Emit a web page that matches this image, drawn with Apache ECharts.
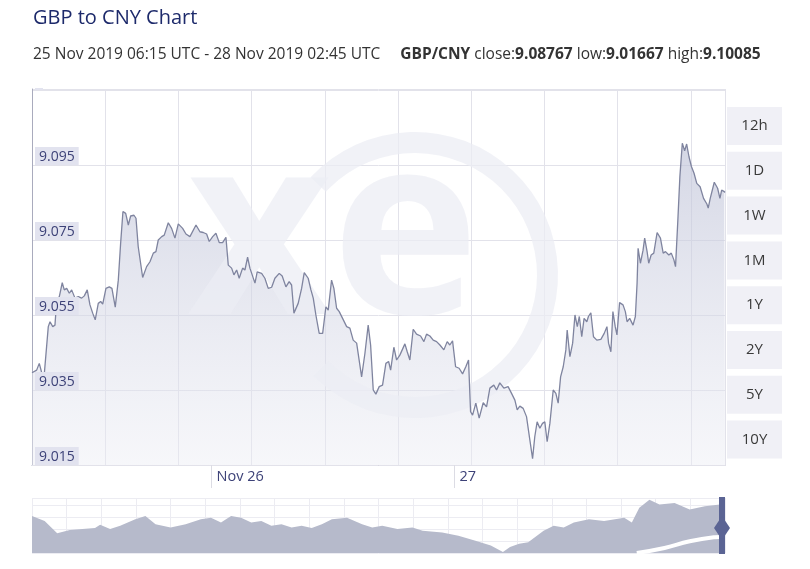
<!DOCTYPE html>
<html>
<head>
<meta charset="utf-8">
<script src="https://cdn.jsdelivr.net/npm/echarts@6/dist/echarts.min.js"></script>
<style>
html,body{margin:0;padding:0;background:#fff;}
#chart{width:810px;height:569px;}
</style>
</head>
<body>
<div id="chart"></div>
<script>
// ---- Data (hours since 25 Nov 2019 00:00 UTC, GBP/CNY rate) ----
const hours25 = [6.25, 6.71, 6.97, 7.21, 7.44, 7.86, 8.03, 8.30, 8.52, 8.69, 8.95, 9.24, 9.44, 9.68, 9.94, 10.17, 10.50, 10.83, 11.16, 11.42, 11.71, 11.98, 12.25, 12.50, 12.80, 13.04, 13.24, 13.56, 13.89, 14.15, 14.28, 14.48, 14.78, 15.01, 15.24, 15.51, 15.77, 16.00, 16.33, 16.53, 16.75, 17.19, 17.58, 17.91, 18.24, 18.50, 18.73, 19.07, 19.32, 19.72, 20.05, 20.38, 20.71, 21.14, 21.47, 21.86, 22.46, 22.85, 23.18, 23.51, 23.77];
const rates25 = [9.0396, 9.0403, 9.0421, 9.0396, 9.0385, 9.0519, 9.0532, 9.0519, 9.0523, 9.0590, 9.0599, 9.0636, 9.0617, 9.0621, 9.0608, 9.0617, 9.0595, 9.0599, 9.0595, 9.0601, 9.0617, 9.0577, 9.0555, 9.0537, 9.0581, 9.0586, 9.0579, 9.0621, 9.0625, 9.0621, 9.0625, 9.0571, 9.0643, 9.0741, 9.0826, 9.0821, 9.0790, 9.0814, 9.0816, 9.0808, 9.0732, 9.0650, 9.0679, 9.0692, 9.0715, 9.0719, 9.0750, 9.0759, 9.0763, 9.0796, 9.0781, 9.0755, 9.0793, 9.0781, 9.0766, 9.0759, 9.0790, 9.0772, 9.0770, 9.0766, 9.0746];

const hours26 = [24.11, 24.43, 24.76, 25.09, 25.42, 25.65, 25.98, 26.21, 26.48, 26.73, 27.07, 27.30, 27.56, 27.79, 28.29, 28.51, 28.95, 29.27, 29.60, 29.94, 30.26, 30.69, 30.98, 31.35, 31.67, 31.91, 32.14, 32.56, 32.90, 33.16, 33.55, 33.82, 34.05, 34.31, 34.64, 34.98, 35.30, 35.53, 35.86, 36.09, 36.36, 36.62, 36.95, 37.35, 37.67, 38.00, 38.34, 38.83, 39.16, 39.32, 39.48, 39.72, 39.98, 40.24, 40.57, 40.90, 41.23, 41.50, 41.70, 42.02, 42.29, 42.61, 43.11, 43.34, 43.60, 43.93, 44.26, 44.66, 44.99, 45.25, 45.58, 45.91, 46.24, 46.57, 46.96, 47.29, 47.55, 47.82];
const rates26 = [9.0759, 9.0768, 9.0743, 9.0743, 9.0757, 9.0683, 9.0675, 9.0657, 9.0670, 9.0648, 9.0675, 9.0670, 9.0704, 9.0675, 9.0635, 9.0665, 9.0661, 9.0648, 9.0621, 9.0624, 9.0648, 9.0661, 9.0654, 9.0625, 9.0639, 9.0630, 9.0555, 9.0581, 9.0621, 9.0663, 9.0648, 9.0617, 9.0595, 9.0550, 9.0501, 9.0501, 9.0572, 9.0563, 9.0643, 9.0621, 9.0568, 9.0559, 9.0541, 9.0519, 9.0515, 9.0483, 9.0475, 9.0385, 9.0448, 9.0443, 9.0523, 9.0470, 9.0350, 9.0339, 9.0359, 9.0363, 9.0421, 9.0426, 9.0403, 9.0464, 9.0430, 9.0443, 9.0473, 9.0452, 9.0430, 9.0512, 9.0499, 9.0494, 9.0479, 9.0499, 9.0494, 9.0483, 9.0479, 9.0470, 9.0457, 9.0479, 9.0470, 9.0481];

const hours27 = [48.12, 48.47, 48.81, 49.13, 49.40, 49.60, 49.80, 50.12, 50.45, 50.85, 51.18, 51.51, 51.90, 52.17, 52.49, 52.89, 53.31, 53.65, 53.98, 54.21, 54.47, 54.80, 55.13, 55.46, 55.73, 55.95, 56.18, 56.45, 56.71, 56.94, 57.17, 57.44, 57.77, 58.03, 58.26, 58.50, 58.76, 59.02, 59.15, 59.42, 59.69, 59.92, 60.15, 60.35, 60.59, 60.82, 61.09, 61.25, 61.49, 61.75, 62.08, 62.48, 62.81, 63.08, 63.24, 63.47, 63.67, 63.90, 64.07, 64.33, 64.67, 64.90, 65.07, 65.33, 65.66, 65.89, 66.06, 66.16, 66.39, 66.65, 66.81, 67.05, 67.21, 67.45, 67.71, 68.04, 68.37, 68.64, 68.87, 69.20, 69.44, 69.70, 69.86, 70.09, 70.29, 70.53, 70.76, 70.96, 71.19, 71.43, 71.69, 71.96];
const rates27 = [9.0412, 9.0408, 9.0393, 9.0412, 9.0430, 9.0292, 9.0283, 9.0315, 9.0275, 9.0316, 9.0305, 9.0355, 9.0363, 9.0350, 9.0369, 9.0355, 9.0359, 9.0341, 9.0323, 9.0297, 9.0307, 9.0301, 9.0279, 9.0217, 9.0167, 9.0226, 9.0265, 9.0248, 9.0261, 9.0265, 9.0212, 9.0261, 9.0350, 9.0341, 9.0315, 9.0385, 9.0412, 9.0457, 9.0510, 9.0439, 9.0475, 9.0550, 9.0519, 9.0546, 9.0492, 9.0541, 9.0532, 9.0546, 9.0556, 9.0492, 9.0483, 9.0485, 9.0501, 9.0519, 9.0475, 9.0452, 9.0559, 9.0519, 9.0497, 9.0583, 9.0577, 9.0559, 9.0532, 9.0541, 9.0523, 9.0546, 9.0635, 9.0728, 9.0688, 9.0723, 9.0755, 9.0719, 9.0688, 9.0710, 9.0715, 9.0770, 9.0755, 9.0715, 9.0719, 9.0710, 9.0715, 9.0697, 9.0679, 9.0803, 9.0919, 9.1008, 9.0988, 9.1006, 9.0972, 9.0946, 9.0928, 9.0901];

const hours28 = [72.29, 72.63, 72.96, 73.09, 73.29, 73.69, 74.02, 74.25, 74.42, 74.68, 74.75];
const rates28 = [9.0892, 9.0861, 9.0846, 9.0835, 9.0861, 9.0904, 9.0888, 9.0861, 9.0883, 9.0879, 9.08767];

// navigator (overview) series
const navHours = [6.25, 7.50, 8.74, 9.99, 12.48, 12.98, 13.97, 14.97, 16.46, 17.46, 18.46, 19.95, 21.44, 22.94, 23.94, 24.93, 25.93, 26.92, 27.92, 28.92, 29.91, 30.91, 31.91, 32.90, 33.90, 34.90, 35.89, 37.39, 38.88, 39.88, 40.87, 42.37, 43.86, 44.86, 46.80, 48.40, 50.00, 51.60, 52.80, 53.50, 54.40, 55.30, 56.82, 57.81, 58.81, 59.81, 61.30, 62.80, 64.79, 65.54, 66.28, 67.28, 68.27, 69.77, 71.26, 72.76, 74.25, 74.75];
const navRates = [9.1018, 9.0750, 9.0072, 9.0250, 9.0357, 9.0536, 9.0304, 9.0482, 9.0840, 9.1018, 9.0572, 9.0393, 9.0572, 9.0840, 9.0929, 9.0661, 9.1018, 9.0929, 9.0661, 9.0750, 9.0482, 9.0572, 9.0393, 9.0482, 9.0357, 9.0572, 9.0840, 9.0929, 9.0572, 9.0393, 9.0482, 9.0304, 9.0393, 9.0214, 9.0125, 8.9947, 8.9679, 8.9411, 8.9054, 8.9321, 8.9500, 8.9589, 9.0214, 9.0482, 9.0393, 9.0661, 9.0840, 9.0750, 9.0929, 9.0661, 9.1465, 9.1911, 9.1643, 9.1733, 9.1375, 9.1554, 9.1643, 9.1600];
const navTrendHours = [66.03, 68.77, 71.26, 73.75, 74.75];
const navTrendRates = [8.900, 8.927, 8.964, 8.986, 8.989];

// axis labels
const yTickLabels = ['9.015', '9.035', '9.055', '9.075', '9.095'];
const xTickHours = [24, 48];
const xTickLabels = ['Nov 26', '27'];
const rangeButtons = ['12h', '1D', '1W', '1M', '1Y', '2Y', '5Y', '10Y'];

const titleText = 'GBP to CNY Chart';
const periodText = '25 Nov 2019 06:15 UTC - 28 Nov 2019 02:45 UTC';
const pairText = 'GBP/CNY';
const closeVal = '9.08767', lowVal = '9.01667', highVal = '9.10085';

function zip(h, r) { return h.map((v, i) => [v, r[i]]); }
const mainData = [].concat(zip(hours25, rates25), zip(hours26, rates26), zip(hours27, rates27), zip(hours28, rates28));

const chart = echarts.init(document.getElementById('chart'));
const FONT = '"Open Sans", sans-serif';

const buttonGraphics = [];
rangeButtons.forEach((lbl, i) => {
  const y = 107 + i * 44.8;
  buttonGraphics.push({ type: 'rect', shape: { x: 727, y: y, width: 55, height: 38 }, style: { fill: '#f0f0f6' }, z: 10 });
  buttonGraphics.push({ type: 'text', x: 754.5, y: y + 19, style: { text: lbl, font: '15px ' + FONT, fill: '#3a3a3a', align: 'center', verticalAlign: 'middle' }, z: 11 });
});

const wmColor = 'rgba(236,237,244,0.72)';
const gridTop = 376 / 75;

const option = {
  animation: false,
  backgroundColor: '#fff',
  title: [
    { text: titleText, left: 28, top: 3, textStyle: { fontFamily: FONT, fontSize: 20, fontWeight: 'normal', color: '#1d2a6b' } },
    {
      text: '{n|' + periodText + '}    {b|' + pairText + '}{n| close:}{b|' + closeVal + '}{n| low:}{b|' + lowVal + '}{n| high:}{b|' + highVal + '}',
      left: 28, top: 41,
      textStyle: { rich: {
        n: { fontFamily: FONT, fontSize: 15.5, color: '#333', fontWeight: 'normal' },
        b: { fontFamily: FONT, fontSize: 15.5, color: '#333', fontWeight: 'bold' }
      } }
    }
  ],
  grid: [
    { left: 32, top: 89, width: 693, height: 376 },
    { left: 32, top: 498, width: 693, height: 55 }
  ],
  xAxis: [
    { gridIndex: 0, type: 'value', min: 6.25, max: 74.75,
      axisLine: { show: true, lineStyle: { color: '#a9abbd', width: 1 } },
      splitLine: { show: false },
      axisTick: { show: true, customValues: xTickHours, length: 23, lineStyle: { color: '#dcdce4' } },
      axisLabel: { show: true, customValues: xTickHours, align: 'left', padding: [0, 0, 0, 5], margin: 4,
        color: '#3d4278', fontSize: 14.5, fontFamily: FONT,
        formatter: v => { const i = xTickHours.indexOf(v); return i >= 0 ? xTickLabels[i] : ''; } } },
    { gridIndex: 0, type: 'value', min: 0, max: 693 / 73.2, interval: 1, position: 'top',
      axisLine: { show: true, lineStyle: { color: '#e2e2ea' } }, axisTick: { show: false }, axisLabel: { show: false },
      splitLine: { show: true, lineStyle: { color: '#e2e2ea', width: 1 } } },
    { gridIndex: 1, type: 'value', min: 6.25, max: 74.75, show: false },
    { gridIndex: 1, type: 'value', min: 0, max: 20, interval: 1,
      axisLine: { show: false }, axisTick: { show: false }, axisLabel: { show: false },
      splitLine: { show: true, lineStyle: { color: '#ececf2', width: 1 } } }
  ],
  yAxis: [
    { gridIndex: 0, type: 'value', min: 9.015, max: 9.015 + 376 / 3750, show: false },
    { gridIndex: 0, type: 'value', position: 'left', min: 0, max: gridTop, interval: 1,
      axisLine: { show: true, lineStyle: { color: '#a9abbd' } }, axisTick: { show: false },
      splitLine: { show: true, lineStyle: { color: '#e2e2ea', width: 1 } },
      axisLabel: { show: false } },
    { gridIndex: 1, type: 'value', min: 8.90, max: 9.20, show: false },
    { gridIndex: 1, type: 'value', position: 'left', min: 0, max: 4.6, interval: 1,
      axisLine: { show: false }, axisTick: { show: false }, axisLabel: { show: false },
      splitLine: { show: true, lineStyle: { color: '#ececf2', width: 1 } } },
    // labels-only axis drawn above the series
    { gridIndex: 0, type: 'value', position: 'left', offset: 0, min: 0, max: gridTop, interval: 1, z: 10,
      axisLine: { show: false }, axisTick: { show: false }, splitLine: { show: false },
      axisLabel: { show: true, inside: true, margin: 3, verticalAlign: 'bottom', color: '#3d4278', fontSize: 14, fontFamily: FONT,
        backgroundColor: '#e2e3ef', padding: [2, 4, 0, 4], lineHeight: 16,
        formatter: (v) => { const i = Math.round(v); return (i >= 0 && i < yTickLabels.length) ? yTickLabels[i] : ''; } } }
  ],
  graphic: [
    // xe watermark (between area fill and line)
    { type: 'sector', shape: { cx: 415, cy: 275, r: 143, r0: 122, startAngle: -2.39, endAngle: 2.36, clockwise: true },
      style: { fill: wmColor }, z: 2, silent: true },
    { type: 'text', x: 333, y: 368, style: { text: 'xe', font: 'bold 250px ' + FONT, fill: wmColor, align: 'center', verticalAlign: 'bottom' }, z: 2, silent: true },
    // navigator handle
    { type: 'rect', shape: { x: 719, y: 497, width: 6, height: 57 }, style: { fill: '#5b6494' }, z: 20 },
    { type: 'polygon', shape: { points: [[722, 516], [730, 528], [722, 540], [714, 528]] }, style: { fill: '#5b6494' }, z: 20 }
  ].concat(buttonGraphics),
  series: [
    { type: 'line', xAxisIndex: 0, yAxisIndex: 0, data: mainData, symbol: 'none', smooth: false,
      lineStyle: { width: 0 },
      areaStyle: { color: new echarts.graphic.LinearGradient(0, 0, 0, 1, [
        { offset: 0, color: 'rgba(188,192,214,0.9)' },
        { offset: 1, color: 'rgba(236,237,244,0.65)' }
      ]) }, z: 1 },
    { type: 'line', xAxisIndex: 0, yAxisIndex: 0, data: mainData, symbol: 'none', smooth: false,
      lineStyle: { color: '#7f849f', width: 1.3 }, z: 3 },
    { type: 'line', xAxisIndex: 2, yAxisIndex: 2, data: zip(navHours, navRates), symbol: 'none',
      lineStyle: { width: 0 }, areaStyle: { color: '#b6bacb', opacity: 1 }, z: 3 },
    { type: 'line', xAxisIndex: 2, yAxisIndex: 2, data: zip(navTrendHours, navTrendRates), symbol: 'none', smooth: true,
      lineStyle: { color: '#ffffff', width: 4 }, z: 4 }
  ]
};
chart.setOption(option);
</script>
</body>
</html>
